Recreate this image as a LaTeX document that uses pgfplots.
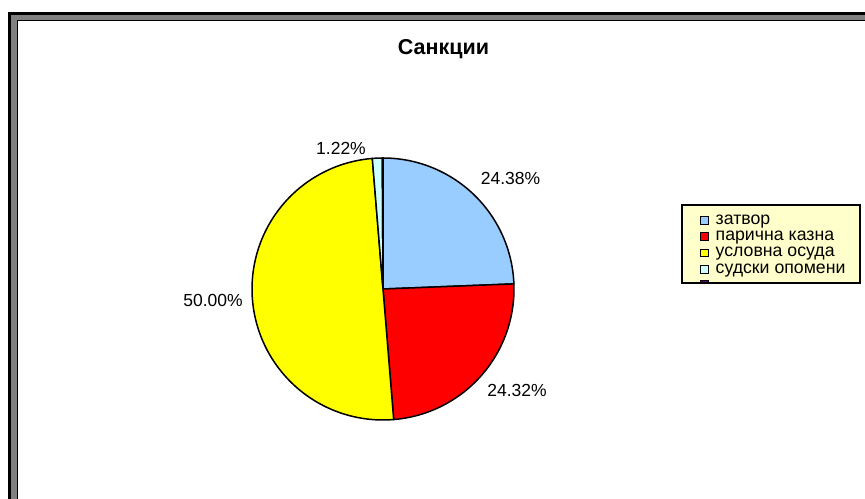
\documentclass[border=0pt]{standalone}
\usepackage{pgfplots}
\usepackage{pgfplotstable}
\pgfplotsset{compat=1.18}
\usepackage{fontspec}
\setmainfont{Liberation Sans}
\definecolor{slice0}{HTML}{99CCFF}
\definecolor{slice1}{HTML}{FF0000}
\definecolor{slice2}{HTML}{FFFF00}
\definecolor{slice3}{HTML}{CCFFFF}
\definecolor{slice4}{HTML}{660066}
\definecolor{framegray}{HTML}{808080}
\definecolor{legbg}{HTML}{FFFFCC}

\pgfplotstableread{
name value
затвор 24.38
парична 24.32
условна 50.00
судски 1.22
друго 0.08
}\piedata

\begin{document}
\begin{tikzpicture}[x=1bp,y=1bp]
\useasboundingbox (0,0) rectangle (865,499);
\clip (0,0) rectangle (865,499);
% chart frame (image y -> 499 - y)
\fill[black] (8,499-12.5) rectangle (900,-20);
\fill[framegray] (11,499-15) rectangle (900,-20);
\fill[black] (17,499-20) rectangle (900,-20);
\fill[white] (18,499-21) rectangle (900,-20);
% title
\node[font=\fontsize{21.5bp}{24bp}\selectfont\bfseries, inner sep=0, text height=0.72em, text depth=0pt] at (443.5,499-51) {Санкции};

\begin{axis}[at={(383,499-289)}, anchor=origin, x=1bp, y=1bp,
  hide axis, xmin=-140, xmax=140, ymin=-140, ymax=140, clip=false]
\def\cum{90}
\pgfplotsforeachungrouped \i in {0,...,4}{%
  \pgfplotstablegetelem{\i}{value}\of\piedata
  \pgfmathsetmacro\startA{\cum}%
  \pgfmathsetmacro\endA{\cum-3.6*\pgfplotsretval}%
  \edef\doplot{\noexpand\addplot[fill=slice\i, draw=black, line width=1.5bp, line join=round, domain=\endA:\startA, samples=90] ({131*cos(x)},{131*sin(x)}) -- (axis cs:0,0) -- cycle;}%
  \doplot
  \global\let\cum\endA
}
\tikzset{pct/.style={font=\fontsize{17.5bp}{20bp}\selectfont, inner sep=0, text height=0.72em, text depth=0pt}}
\node[pct] at (axis cs:127.5,108) {24.38\%};
\node[pct] at (axis cs:134,-104) {24.32\%};
\node[pct] at (axis cs:-170,-14) {50.00\%};
\node[pct] at (axis cs:-42,138.5) {1.22\%};
\end{axis}

% legend
\begin{scope}
\fill[legbg] (682,499-205) rectangle (860,499-283);
\clip (682,499-205) rectangle (860,499-282);
\foreach \c/\t/\y in {slice0/затвор/220.5, slice1/парична казна/236.5, slice2/условна осуда/253, slice3/судски опомени/269.5, slice4/{}/284.5}{
  \filldraw[fill=\c, draw=black, line width=0.9bp] (700.5,499-\y+3.8) rectangle (708,499-\y-3.8);
  \node[anchor=west, inner sep=0, font=\fontsize{17.7bp}{19bp}\selectfont, text height=0.72em, text depth=0pt] at (715.5,499-\y) {\t};
}
\end{scope}
\draw[black, line width=1.3bp] (682,499-205) rectangle (860,499-283);
\end{tikzpicture}
\end{document}
